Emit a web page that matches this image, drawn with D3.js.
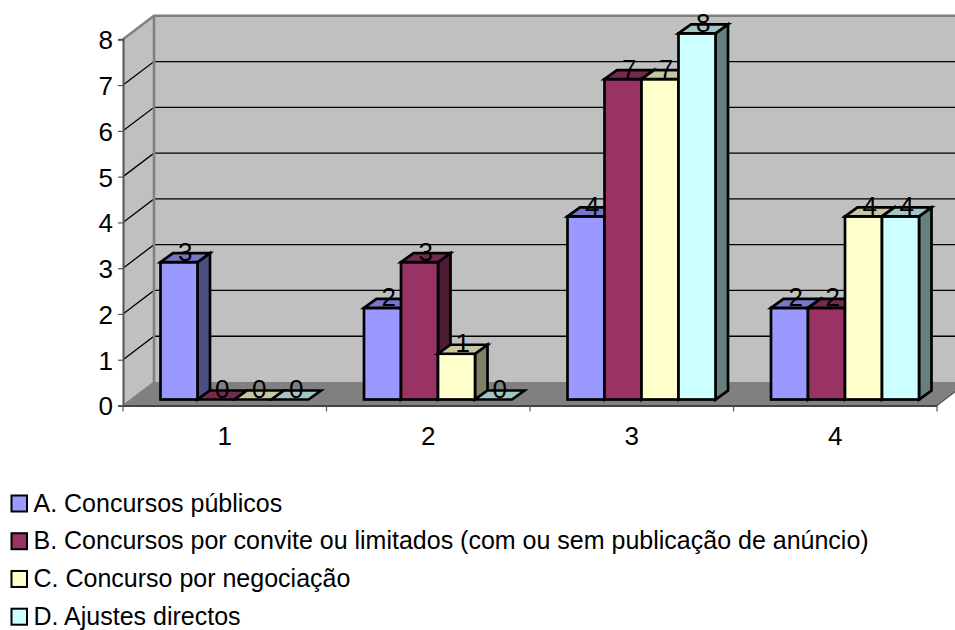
<!DOCTYPE html>
<html><head><meta charset="utf-8">
<script src="https://cdnjs.cloudflare.com/ajax/libs/d3/7.8.5/d3.min.js"></script>
<style>html,body{margin:0;padding:0;background:#fff;overflow:hidden}svg{display:block}text{font-family:"Liberation Sans",Arial,sans-serif;fill:#000}</style>
</head><body><svg id="c" width="955" height="630"></svg>
<script>
const categories = ["1","2","3","4"];
const seriesNames = ["A. Concursos públicos","B. Concursos por convite ou limitados (com ou sem publicação de anúncio)","C. Concurso por negociação","D. Ajustes directos"];
const seriesA = [3,2,4,2];
const seriesB = [0,3,7,2];
const seriesC = [0,1,7,4];
const seriesD = [0,0,8,4];
const colors = ["#9999FF","#993366","#FFFFCC","#CCFFFF"];
const yTicks = [0,1,2,3,4,5,6,7,8];

const allSeries = [seriesA,seriesB,seriesC,seriesD];
const svg = d3.select("#c");
const x = d3.scaleBand().domain(categories).range([123,937]).paddingInner(0).paddingOuter(0);
const y = d3.scaleLinear().domain([0,8]).range([405.5,39.3]);
const wall = {dx:31,dy:-23.5};
const barPlane = {dx:8.5,dy:-6};
const depth = {dx:12.5,dy:-9};
const group = d3.scaleBand().domain(d3.range(4)).range([0,148]);
const groupGap = 29;
const pts = a => a.map(p=>p.join(",")).join(" ");

// walls and floor
svg.append("polygon").attr("fill","#c0c0c0").attr("points",pts([[x.range()[0],y(0)],[x.range()[0],y(8)],[x.range()[0]+wall.dx,y(8)+wall.dy],[x.range()[0]+wall.dx,y(0)+wall.dy]]));
svg.append("polygon").attr("fill","#c0c0c0").attr("points",pts([[x.range()[0]+wall.dx,y(8)+wall.dy],[x.range()[1]+wall.dx,y(8)+wall.dy],[x.range()[1]+wall.dx,y(0)+wall.dy],[x.range()[0]+wall.dx,y(0)+wall.dy]]));
svg.append("polygon").attr("fill","#808080").attr("points",pts([[x.range()[0],y(0)],[x.range()[0]+wall.dx,y(0)+wall.dy],[x.range()[1]+wall.dx,y(0)+wall.dy],[x.range()[1],y(0)]]));

// gridlines
yTicks.filter(t=>t>0&&t<8).forEach(t=>{
  svg.append("polyline").attr("fill","none").attr("stroke","#000").attr("stroke-width",1.3)
    .attr("points",pts([[x.range()[0],y(t)],[x.range()[0]+wall.dx,y(t)+wall.dy],[x.range()[1]+wall.dx,y(t)+wall.dy]]));
});
// wall edges
svg.append("polyline").attr("fill","none").attr("stroke","#808080").attr("stroke-width",2.4)
  .attr("points",pts([[x.range()[0],y(8)],[x.range()[0]+wall.dx,y(8)+wall.dy],[x.range()[1]+wall.dx,y(8)+wall.dy]]));
svg.append("line").attr("stroke","#808080").attr("stroke-width",2.6)
  .attr("x1",x.range()[0]+wall.dx).attr("x2",x.range()[0]+wall.dx).attr("y1",y(8)+wall.dy).attr("y2",y(0)+wall.dy);
svg.append("line").attr("stroke","#808080").attr("stroke-width",1.5)
  .attr("x1",x.range()[0]).attr("x2",x.range()[0]+wall.dx).attr("y1",y(0)).attr("y2",y(0)+wall.dy);
svg.append("line").attr("stroke","#555").attr("stroke-width",1.2)
  .attr("x1",x.range()[1]).attr("x2",x.range()[1]+wall.dx).attr("y1",y(0)).attr("y2",y(0)+wall.dy);

// axes
const yAxis = d3.axisLeft(y).tickValues(yTicks).tickSize(5).tickPadding(5);
const gy = svg.append("g").attr("transform",`translate(${x.range()[0]},0)`).call(yAxis);
gy.selectAll("text").style("font-size","26px").attr("fill","#000").attr("dy","0.36em");
gy.selectAll("path").attr("stroke","#555").attr("stroke-width",2);
gy.selectAll("line").attr("stroke","#555").attr("stroke-width",1.2);

const xAxis = d3.axisBottom(x).tickSizeOuter(0).tickSize(0).tickPadding(21);
const gx = svg.append("g").attr("transform",`translate(0,${y(0)})`).call(xAxis);
gx.selectAll("text").style("font-size","26px").attr("fill","#000");
gx.select("path").attr("stroke","#444").attr("stroke-width",2.2);
[...categories.map(c=>x(c)),x.range()[1]].forEach(v=>{
  svg.append("line").attr("x1",v).attr("x2",v).attr("y1",y(0)).attr("y2",y(0)+6).attr("stroke","#555").attr("stroke-width",1.2);
});

// bars
const bw = group.bandwidth();
const by = v => y(v)+barPlane.dy;
const bx = (c,s) => x(c)+barPlane.dx+groupGap+group(s);
categories.forEach((c,ci)=>{
  allSeries.forEach((vals,s)=>{
    const v = vals[ci], col = d3.color(colors[s]);
    const x0 = bx(c,s), x1 = x0+bw, yt = by(v), yb = by(0);
    const g = svg.append("g").attr("stroke","#000").attr("stroke-width",2.7).attr("stroke-linejoin","miter");
    const shade = k => d3.rgb(col.r*k,col.g*k,col.b*k);
    if(v>0){
      g.append("polygon").attr("fill",shade(.5)).attr("points",pts([[x1,yt],[x1+depth.dx,yt+depth.dy],[x1+depth.dx,yb+depth.dy],[x1,yb]]));
      g.append("rect").attr("fill",col).attr("x",x0).attr("y",yt).attr("width",bw).attr("height",yb-yt);
    }
    g.append("polygon").attr("fill",shade(.78)).attr("points",pts([[x0,yt],[x0+depth.dx,yt+depth.dy],[x1+depth.dx,yt+depth.dy],[x1,yt]]));
  });
});
// data labels
categories.forEach((c,ci)=>{
  allSeries.forEach((vals,s)=>{
    svg.append("text").attr("x",bx(c,s)+bw/2+depth.dx/2).attr("y",by(vals[ci])-1.5)
      .attr("text-anchor","middle").style("font-size","26px").text(vals[ci]);
  });
});

// legend
const legendY = d3.scalePoint().domain(d3.range(4)).range([503.5,616.7]);
seriesNames.forEach((n,i)=>{
  svg.append("rect").attr("x",11.5).attr("y",legendY(i)-8).attr("width",15.5).attr("height",16)
    .attr("fill",colors[i]).attr("stroke","#000").attr("stroke-width",2);
  svg.append("text").attr("x",33.5).attr("y",legendY(i)+8).style("font-size","25px").text(n);
});
</script></body></html>
